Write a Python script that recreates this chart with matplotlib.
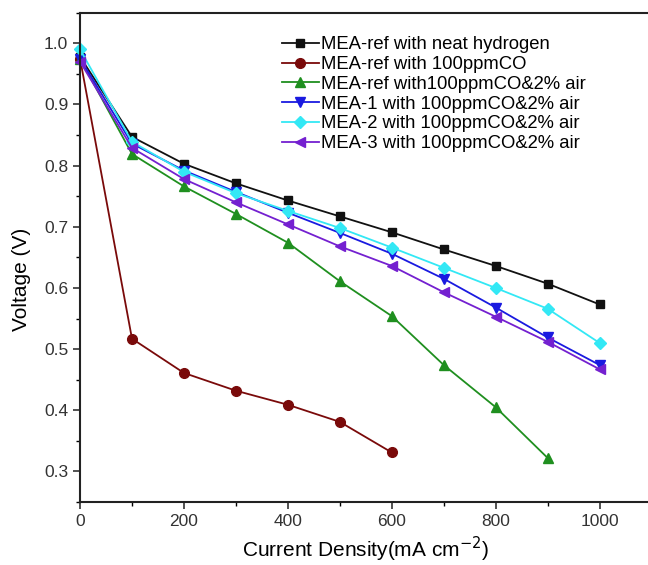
import matplotlib
matplotlib.use("Agg")
import matplotlib.pyplot as plt
from matplotlib.ticker import MultipleLocator

plt.rcParams['font.family'] = ['Liberation Sans', 'DejaVu Sans']

current = [0, 100, 200, 300, 400, 500, 600, 700, 800, 900, 1000]

ref_h2 = [0.978, 0.847, 0.803, 0.771, 0.743, 0.717, 0.691, 0.663, 0.636, 0.607, 0.573]
ref_co = [0.975, 0.517, 0.461, 0.432, 0.409, 0.381, 0.331]
ref_co_air = [0.975, 0.819, 0.766, 0.721, 0.674, 0.611, 0.554, 0.474, 0.405, 0.322]
mea1 = [0.975, 0.836, 0.792, 0.757, 0.723, 0.690, 0.656, 0.615, 0.568, 0.519, 0.474]
mea2 = [0.990, 0.839, 0.790, 0.755, 0.726, 0.698, 0.666, 0.633, 0.600, 0.566, 0.510]
mea3 = [0.970, 0.829, 0.778, 0.740, 0.704, 0.668, 0.636, 0.593, 0.553, 0.512, 0.467]

labels = ["MEA-ref with neat hydrogen",
          "MEA-ref with 100ppmCO",
          "MEA-ref with100ppmCO&2% air",
          "MEA-1 with 100ppmCO&2% air",
          "MEA-2 with 100ppmCO&2% air",
          "MEA-3 with 100ppmCO&2% air"]

series = [ref_h2, ref_co, ref_co_air, mea1, mea2, mea3]
colors = ['#111111', '#7a0a0a', '#1f8f1f', '#1a1ae0', '#33e8f5', '#7420d0']
markers = ['s', 'o', '^', 'v', 'D', '<']
msizes = [6, 7, 7, 7, 6, 7]

fig = plt.figure(figsize=(6.48, 5.65), dpi=100)
ax = fig.add_axes([0.1235, 0.1115, 0.882, 0.866])

for ys, lab, c, m, ms in zip(series, labels, colors, markers, msizes):
    ax.plot(current[:len(ys)], ys, color=c, marker=m, markersize=ms,
            linewidth=1.3, label=lab, clip_on=False)

ax.set_xlim(0, 1100)
ax.set_ylim(0.25, 1.05)
ax.xaxis.set_major_locator(MultipleLocator(200))
ax.xaxis.set_minor_locator(MultipleLocator(100))
ax.yaxis.set_major_locator(MultipleLocator(0.1))
ax.yaxis.set_minor_locator(MultipleLocator(0.05))
ax.set_xticks([0, 200, 400, 600, 800, 1000])
ax.yaxis.set_major_formatter(plt.FormatStrFormatter('%.1f'))
ax.tick_params(which='major', direction='out', length=5, width=1.2,
               labelsize=12.5, colors='#333333')
ax.tick_params(which='minor', direction='out', length=3, width=1.0)
for s in ['left', 'bottom', 'top']:
    ax.spines[s].set_linewidth(1.5)
    ax.spines[s].set_color('#222222')
ax.spines['right'].set_visible(False)

ax.set_xlabel('Current Density(mA cm$^{-2}$)', fontsize=15, labelpad=4)
ax.set_ylabel('Voltage (V)', fontsize=15)
ax.yaxis.set_label_coords(-0.085, 0.456)

leg = ax.legend(loc='upper left', bbox_to_anchor=(0.34, 0.967), fontsize=13.3,
                frameon=False, handlelength=2.0, handletextpad=0.1,
                labelspacing=0.15, borderaxespad=0)

fig.savefig('out.png', dpi=100)
